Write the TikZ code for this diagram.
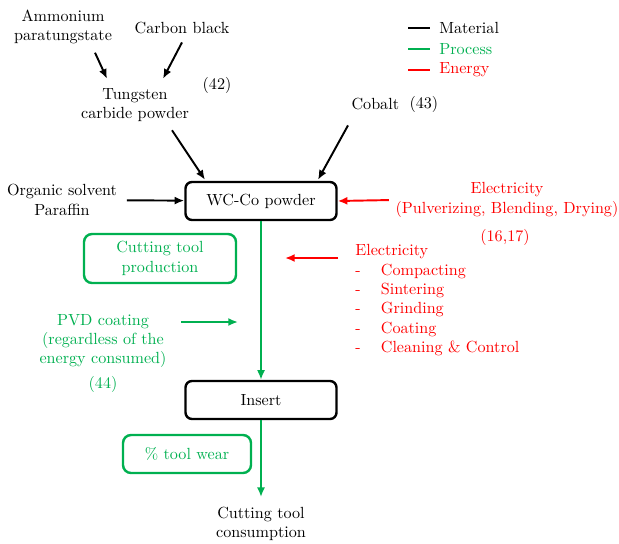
\documentclass[tikz,border=0pt]{standalone}
\usetikzlibrary{arrows.meta}
\definecolor{colmat}{RGB}{0,0,0}
\definecolor{colproc}{RGB}{0,176,80}
\definecolor{colener}{RGB}{255,0,0}
\tikzset{
  txt/.style={align=center, inner sep=2pt},
  stagebox/.style={draw=colmat, line width=1.5pt, rounded corners=4pt,
    minimum width=151*0.62pt, minimum height=38*0.62pt, align=center},
  procbox/.style={draw=colproc, text=colproc, line width=1.5pt,
    rounded corners=5pt, align=center},
  mat/.style={draw=colmat, line width=1.2pt, -{Latex[length=6pt,width=5pt]}},
  proc/.style={draw=colproc, line width=1.2pt, -{Latex[length=6pt,width=5pt]}},
  ener/.style={draw=colener, line width=1.2pt, -{Latex[length=6pt,width=5pt]}}
}

\begin{document}
\begin{tikzpicture}[x=0.62pt, y=-0.62pt]
  \useasboundingbox (0,0) rectangle (619,543);

  % raw materials
  \node[txt] (apt) at (63,27) {Ammonium\\paratungstate};
  \node[txt] (cb) at (182,28) {Carbon black};
  \node[txt] (wc) at (135,105) {Tungsten\\carbide powder};
  \node[txt] (ref42) at (217,85) {(42)};
  \node[txt, anchor=west] (co) at (348,104) {Cobalt};
  \node[txt, anchor=west] (ref43) at (406,104) {(43)};
  \node[txt] (org) at (62,200) {Organic solvent\\Paraffin};

  % main chain
  \node[stagebox] (wcco) at (261,201) {WC-Co powder};
  \node[stagebox] (ins) at (261,400) {Insert};
  \node[txt] (cons) at (261,524) {Cutting tool\\consumption};

  % process boxes
  \node[procbox, minimum width=152*0.62pt, minimum height=49*0.62pt]
    (ctp) at (160,258.5) {Cutting tool\\production};
  \node[procbox, minimum width=128*0.62pt, minimum height=38*0.62pt]
    (wear) at (187,454) {\% tool wear};
  \node[txt, text=colproc] (pvd) at (103,341)
    {PVD coating\\(regardless of the\\energy consumed)};
  \node[txt, text=colproc] (ref44) at (103,384) {(44)};

  % energy
  \node[txt, text=colener] (elec1) at (507,200)
    {Electricity\\(Pulverizing, Blending, Drying)};
  \node[txt, text=colener] (ref1617) at (505,237) {(16,17)};
  \node[txt, text=colener, anchor=north west, inner sep=0pt] (elec2) at (355,242)
    {\begin{tabular}{@{}l@{\hspace{12.5pt}}l@{}}
      \multicolumn{2}{@{}l}{Electricity}\\
      - & Compacting\\
      - & Sintering\\
      - & Grinding\\
      - & Coating\\
      - & Cleaning \& Control
    \end{tabular}};
  \coordinate (e2tip) at (285,258);
  \coordinate (pvdtip) at (238,322);

  % material arrows
  \draw[mat] ([shift={(32,5)}]apt.south) -- ([shift={(-28,-6)}]wc.north);
  \draw[mat] ([shift={(0,5)}]cb.south) -- ([shift={(28,-6)}]wc.north);
  \draw[mat] ([shift={(37,5)}]wc.south) -- ([shift={(-56,-1)}]wcco.north);
  \draw[mat] ([shift={(0,12)}]co.south west) -- ([shift={(57,-1)}]wcco.north);
  \draw[mat, shorten <=4pt] (org) -- (wcco);

  % process arrows
  \draw[proc] (wcco.south) -- (ins.north);
  \draw[proc, shorten >=4pt] (ins.south) -- (cons);
  \draw[proc] ([xshift=11*0.62pt]pvd.east |- pvdtip) -- (pvdtip);

  % energy arrows
  \draw[ener, shorten <=2pt] (elec1.west) -- (wcco.east);
  \draw[ener] ([xshift=-17*0.62pt]elec2.west |- e2tip) -- (e2tip);

  % legend
  \foreach \yy/\cc/\tt in {28/colmat/Material, 49/colproc/Process, 70/colener/Energy}
    \draw[\cc, line width=1.6pt] (408,\yy) -- (430,\yy)
      node[right=5pt, text=\cc, inner sep=0pt] (leg\tt) {\tt};
\end{tikzpicture}
\end{document}
